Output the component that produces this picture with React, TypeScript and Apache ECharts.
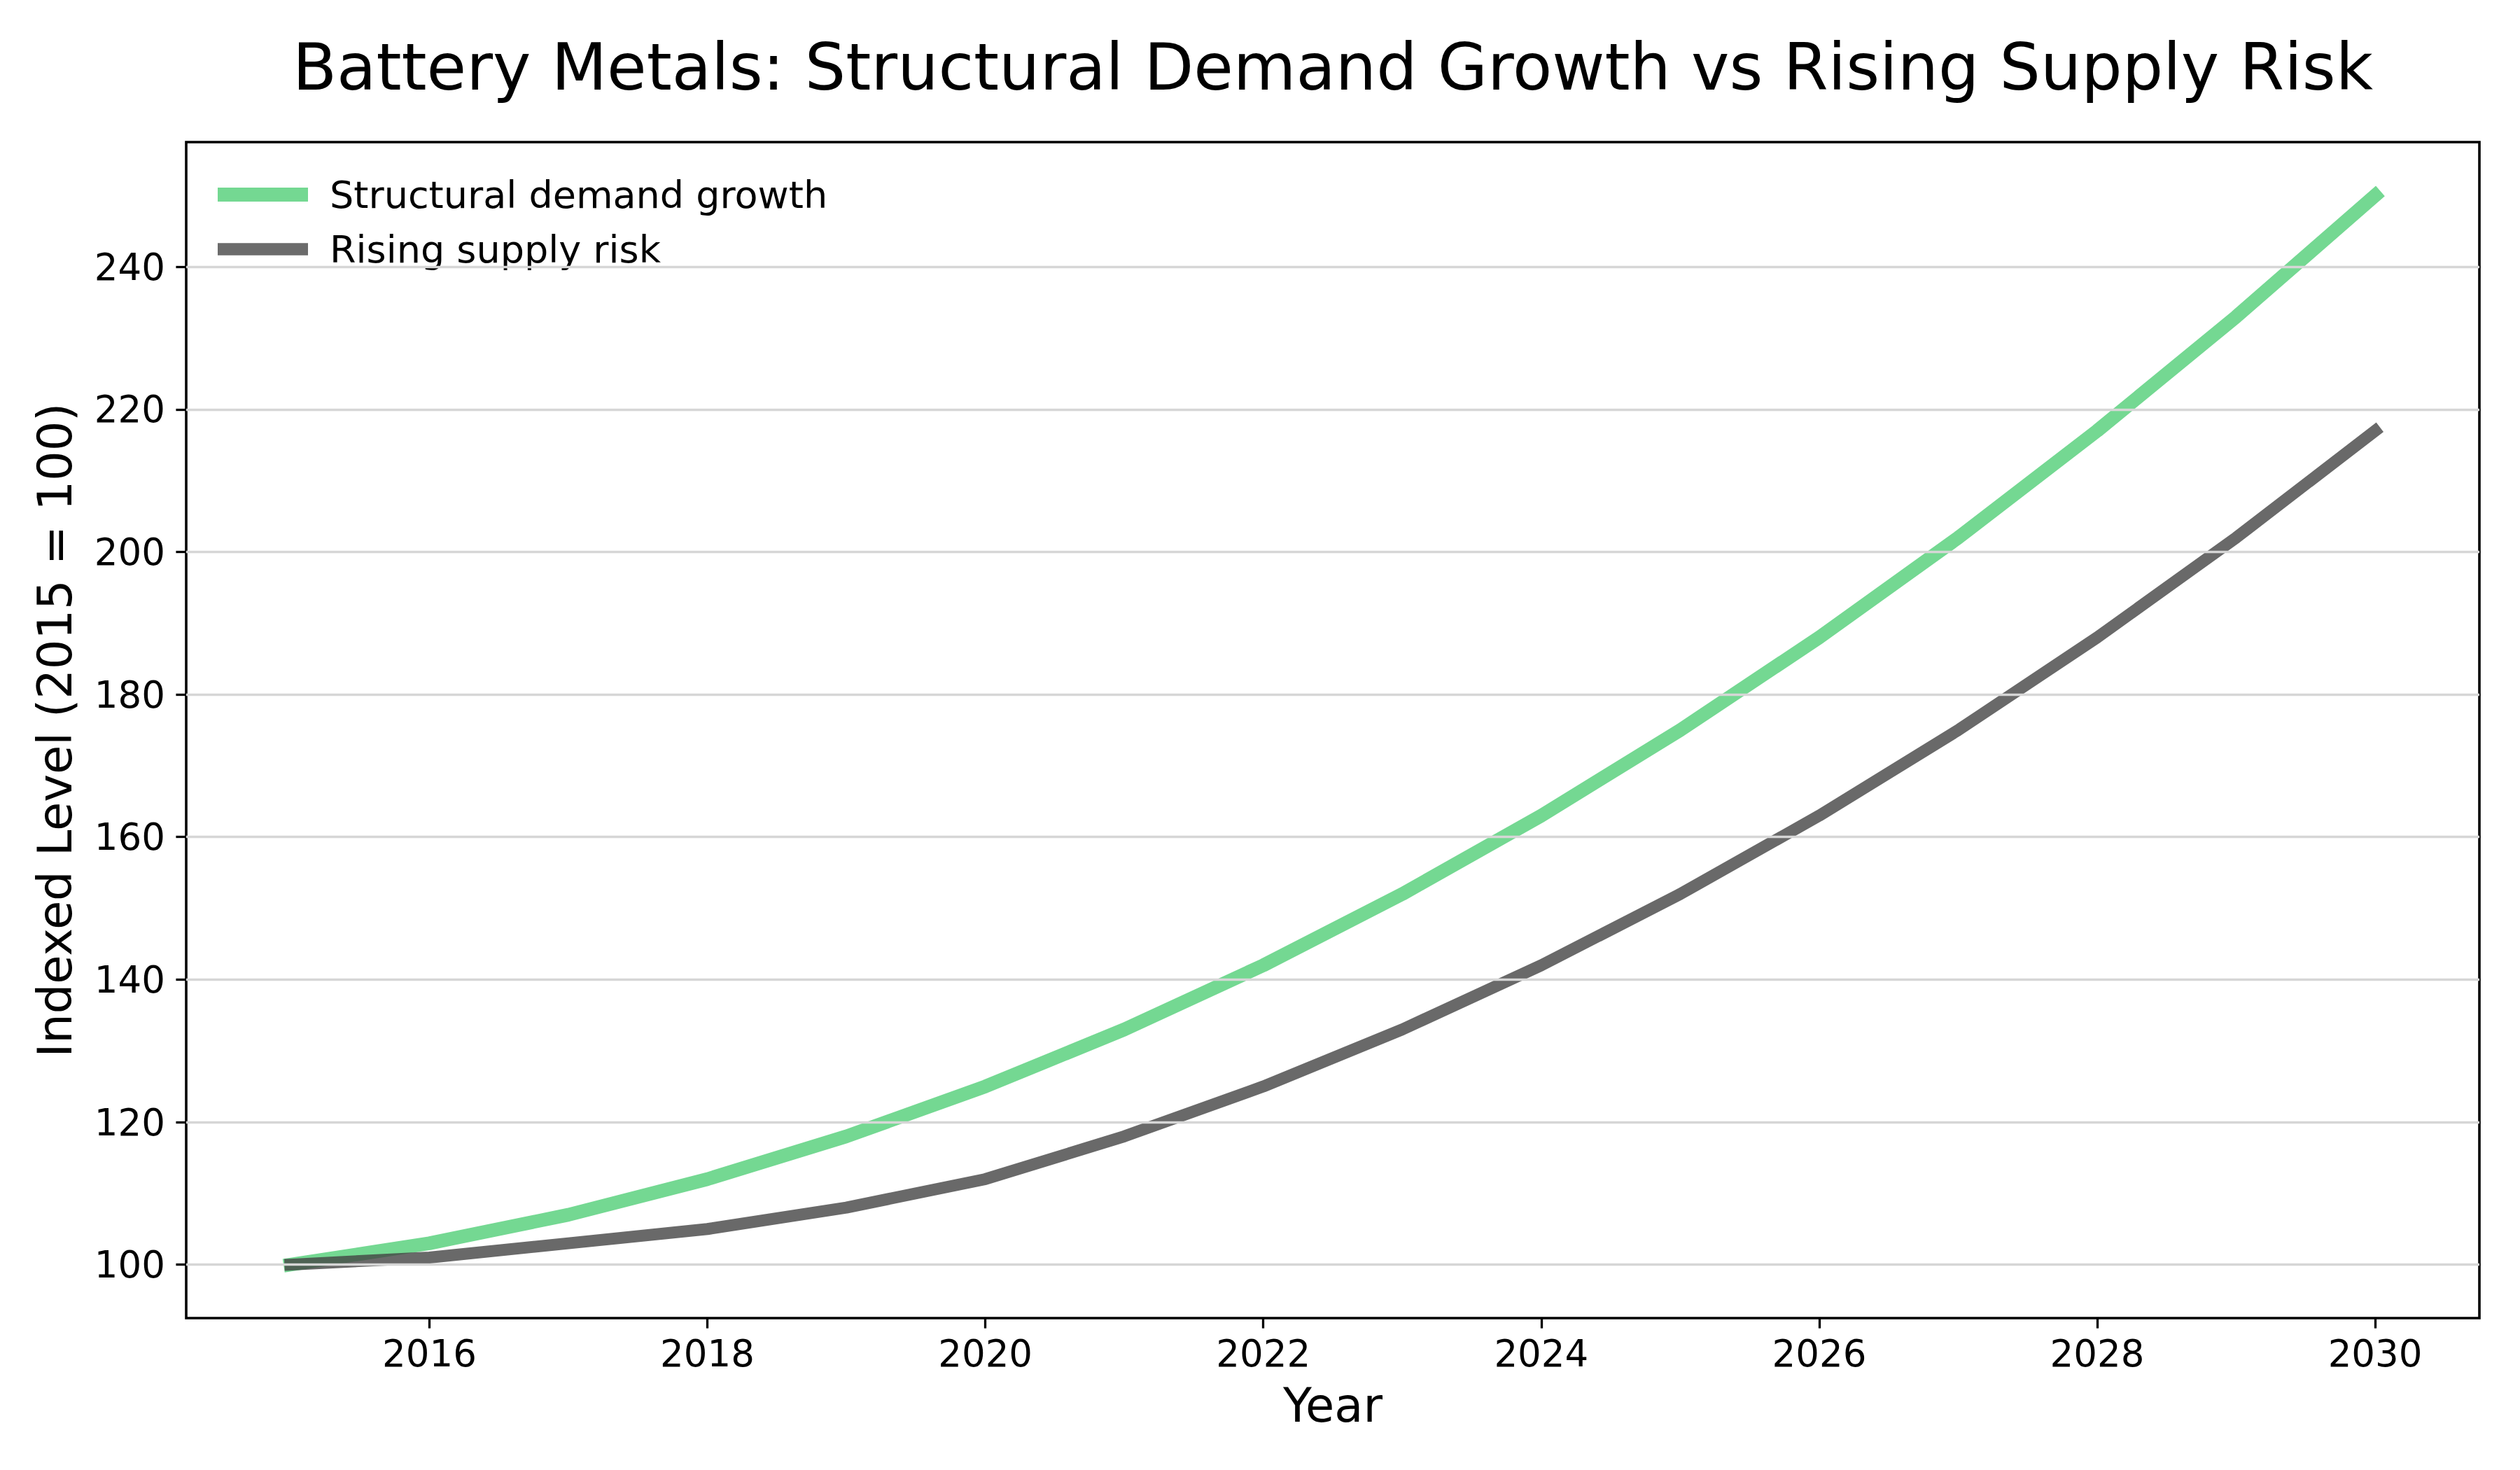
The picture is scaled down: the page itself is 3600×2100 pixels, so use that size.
import React, { useEffect, useRef } from "react";
import * as echarts from "echarts";

const years = [2015, 2016, 2017, 2018, 2019, 2020, 2021, 2022, 2023, 2024, 2025, 2026, 2027, 2028, 2029, 2030];
const demandGrowth = [100, 103, 107, 112, 118, 125, 133, 142, 152, 163, 175, 188, 202, 217, 233, 250];
const supplyRisk = [100, 101, 103, 105, 108, 112, 118, 125, 133, 142, 152, 163, 175, 188, 202, 217];
const xTicks = [2016, 2018, 2020, 2022, 2024, 2026, 2028, 2030];
const yTicks = [100, 120, 140, 160, 180, 200, 220, 240];
const seriesNames = ["Structural demand growth", "Rising supply risk"];
const titleText = "Battery Metals: Structural Demand Growth vs Rising Supply Risk";
const xName = "Year";
const yName = "Indexed Level (2015 = 100)";

const FONT = "DejaVu Sans";

export default function App() {
  const ref = useRef<HTMLDivElement>(null);
  useEffect(() => {
    document.body.style.margin = "0";
    if (!ref.current) return;
    const chart = echarts.init(ref.current, null, { renderer: "svg" });
    const W = 3600;
    const gridLeft = 266;
    const gridRight = 58;
    const gridTop = 203;
    const gridBottom = 217;
    const plotCenter = gridLeft + (W - gridLeft - gridRight) / 2;
    const toPairs = (vals: number[]) => years.map((y, i) => [y, vals[i]]);
    chart.setOption({
      animation: false,
      backgroundColor: "#ffffff",
      textStyle: { fontFamily: FONT },
      grid: {
        left: gridLeft,
        right: gridRight,
        top: gridTop,
        bottom: gridBottom,
        show: true,
        borderColor: "#000000",
        borderWidth: 3.6,
        backgroundColor: "transparent",
      },
      graphic: [
        {
          type: "text",
          x: plotCenter,
          y: 96,
          style: {
            text: titleText,
            fontFamily: FONT,
            fontSize: 92,
            fill: "#000000",
            align: "center",
            verticalAlign: "middle",
          },
        },
      ],
      legend: {
        orient: "vertical",
        left: 306,
        top: 246,
        itemWidth: 129,
        itemHeight: 20,
        itemGap: 24,
        symbolKeepAspect: true,
        data: [
          { name: seriesNames[0], icon: "rect" },
          { name: seriesNames[1], icon: "path://M0,0H125V17H0Z" },
        ],
        textStyle: {
          fontFamily: FONT,
          fontSize: 54,
          lineHeight: 54,
          color: "#000000",
          padding: [0, 0, 0, 26],
        },
      },
      xAxis: {
        type: "value",
        min: 2014.25,
        max: 2030.75,
        name: xName,
        nameLocation: "middle",
        nameGap: 91,
        nameTextStyle: { fontFamily: FONT, fontSize: 67, lineHeight: 67, color: "#000000" },
        axisLine: { show: false },
        axisTick: {
          show: true,
          length: 14.6,
          lineStyle: { color: "#000000", width: 3.3 },
          customValues: xTicks,
        },
        axisLabel: {
          fontFamily: FONT,
          fontSize: 53,
          lineHeight: 53,
          color: "#000000",
          margin: 24,
          customValues: xTicks,
          formatter: (v: number) => String(v),
        },
        splitLine: { show: false },
      },
      yAxis: {
        type: "value",
        min: 92.5,
        max: 257.5,
        name: yName,
        nameLocation: "middle",
        nameRotate: 90,
        nameGap: 154,
        nameTextStyle: { fontFamily: FONT, fontSize: 67, lineHeight: 67, color: "#000000" },
        axisLine: { show: false },
        axisTick: {
          show: true,
          length: 14.6,
          lineStyle: { color: "#000000", width: 3.3 },
          customValues: yTicks,
        },
        axisLabel: {
          fontFamily: FONT,
          fontSize: 53,
          lineHeight: 53,
          color: "#000000",
          margin: 30,
          customValues: yTicks,
          formatter: (v: number) => String(v),
        },
        splitLine: { show: false },
      },
      series: [
        {
          type: "line",
          name: "gridlines",
          data: [],
          z: 1,
          silent: true,
          markLine: {
            silent: true,
            symbol: "none",
            label: { show: false },
            lineStyle: { color: "#d6d6d6", width: 3.3, type: "solid" },
            emphasis: { disabled: true },
            data: yTicks.map((v) => ({ yAxis: v })),
          },
        },
        {
          type: "line",
          name: seriesNames[0],
          data: toPairs(demandGrowth),
          z: 3,
          showSymbol: false,
          symbol: "none",
          color: "#74d892",
          lineStyle: { color: "#74d892", width: 19.5, cap: "square", join: "round" },
          itemStyle: { color: "#74d892" },
        },
        {
          type: "line",
          name: seriesNames[1],
          data: toPairs(supplyRisk),
          z: 4,
          showSymbol: false,
          symbol: "none",
          color: "#6b6b6b",
          lineStyle: { color: "#444444", opacity: 0.8, width: 17, cap: "square", join: "round" },
          itemStyle: { color: "#6b6b6b" },
        },
      ],
    });
    return () => chart.dispose();
  }, []);
  return <div ref={ref} style={{ width: 3600, height: 2100 }} />;
}
